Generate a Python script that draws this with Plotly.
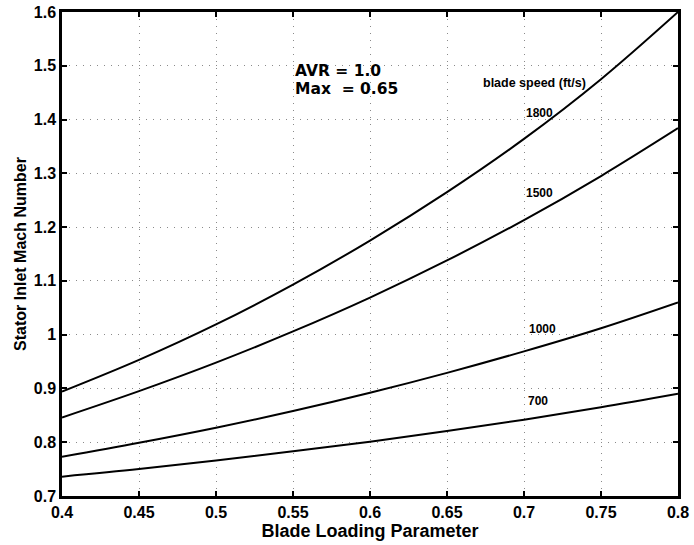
import plotly.graph_objects as go

blade_loading = [0.40, 0.45, 0.50, 0.55, 0.60, 0.65, 0.70, 0.75, 0.80]
mach_1800 = [0.894, 0.953, 1.019, 1.093, 1.175, 1.265, 1.364, 1.475, 1.600]
mach_1500 = [0.846, 0.895, 0.948, 1.006, 1.069, 1.138, 1.213, 1.295, 1.384]
mach_1000 = [0.773, 0.799, 0.827, 0.858, 0.892, 0.929, 0.969, 1.012, 1.060]
mach_700 = [0.736, 0.750, 0.766, 0.783, 0.801, 0.821, 0.842, 0.865, 0.890]

series = [("1800", mach_1800), ("1500", mach_1500), ("1000", mach_1000), ("700", mach_700)]

x_ticks = [0.4, 0.45, 0.5, 0.55, 0.6, 0.65, 0.7, 0.75, 0.8]
x_ticktext = ["0.4", "0.45", "0.5", "0.55", "0.6", "0.65", "0.7", "0.75", "0.8"]
y_ticks = [0.7, 0.8, 0.9, 1.0, 1.1, 1.2, 1.3, 1.4, 1.5, 1.6]
y_ticktext = ["0.7", "0.8", "0.9", "1", "1.1", "1.2", "1.3", "1.4", "1.5", "1.6"]

FONT = "Liberation Sans"
WIDE = "DejaVu Sans"

fig = go.Figure()
for name, vals in series:
    fig.add_trace(go.Scatter(
        x=blade_loading, y=vals, mode="lines", name=name,
        line=dict(color="black", width=2, shape="spline", smoothing=1.0),
        showlegend=False, hoverinfo="skip",
    ))

labels = [
    ("blade speed (ft/s)", 0.707, 1.468, 12.5),
    ("1800", 0.710, 1.412, 12),
    ("1500", 0.710, 1.263, 12),
    ("1000", 0.712, 1.010, 12),
    ("700", 0.709, 0.877, 12),
]
for text, x, y, size in labels:
    fig.add_annotation(x=x, y=y, text=text, showarrow=False,
                       font=dict(family=FONT, size=size, color="black", weight="bold"))

fig.add_annotation(x=0.55, y=1.491, text="AVR = 1.0", showarrow=False, xanchor="left",
                   font=dict(family=WIDE, size=15.5, color="black", weight="bold"))
fig.add_annotation(x=0.55, y=1.457, text="Max &nbsp;= 0.65", showarrow=False, xanchor="left",
                   font=dict(family=WIDE, size=15.5, color="black", weight="bold"))

axis_common = dict(
    showline=True, linecolor="black", linewidth=2.5, mirror="ticks",
    ticks="inside", ticklen=5, tickwidth=1.5, tickcolor="black",
    showgrid=True, gridcolor="#8a8a8a", gridwidth=1, griddash="1px,6px",
    zeroline=False, automargin=False,
    tickfont=dict(family=FONT, size=16, color="black", weight="bold"),
)

fig.update_xaxes(range=[0.4, 0.8], tickvals=x_ticks, ticktext=x_ticktext,
                 title=dict(text="Blade Loading Parameter", standoff=0,
                            font=dict(family=FONT, size=18, color="black", weight="bold")),
                 **axis_common)
fig.update_yaxes(range=[0.7, 1.6], tickvals=y_ticks, ticktext=y_ticktext,
                 title=dict(text="Stator Inlet Mach Number", standoff=4,
                            font=dict(family=FONT, size=16, color="black", weight="bold")),
                 **axis_common)

fig.update_layout(
    width=694, height=545,
    margin=dict(l=62, r=16, t=12, b=49),
    paper_bgcolor="white", plot_bgcolor="white",
    font=dict(family=FONT, color="black"),
)

fig.write_html("out.html", config={"displayModeBar": False},
               post_script="document.body.style.margin='0';document.body.style.overflow='hidden';")
